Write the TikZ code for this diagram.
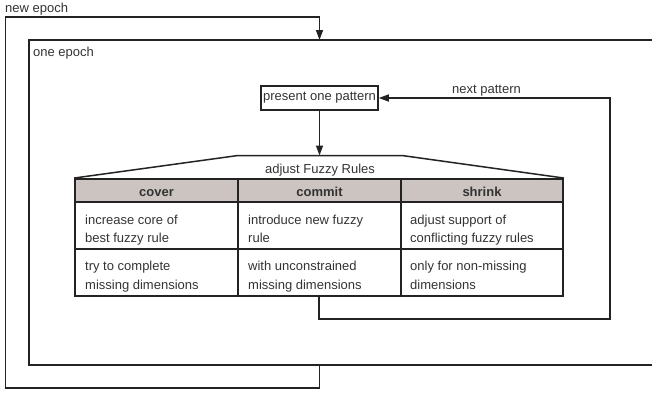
\documentclass[tikz,border=0pt]{standalone}
\usepackage{fontspec}
\setmainfont{Liberation Sans}
\usetikzlibrary{arrows.meta}
\definecolor{ln}{HTML}{232323}
\definecolor{tx}{HTML}{333333}
\definecolor{hdr}{HTML}{CCC4C0}
\tikzset{
  wire/.style={draw=ln, line width=1.5pt},
  arr/.style={wire, -{Triangle[length=10pt,width=7pt]}},
  txt/.style={text=tx, font=\fontsize{13}{18}\selectfont, inner sep=0pt},
  hdrtxt/.style={txt, font=\fontsize{13}{18}\selectfont\bfseries},
  boxnode/.style={draw=ln, line width=1.5pt, inner sep=0pt, minimum width=117pt, minimum height=24pt, text=tx, font=\fontsize{13}{18}\selectfont},
  tablebox/.style={draw=ln, line width=1.9pt, inner sep=0pt, minimum width=488pt, minimum height=117pt},
  grid/.style={draw=ln, line width=1.4pt},
}
\begin{document}
\begin{tikzpicture}[x=1pt,y=-1pt]
\useasboundingbox (0,0) rectangle (652,392);
% coordinates
\coordinate (epochTop) at (319.5,40);
\coordinate (epochBot) at (319.5,365);
\coordinate (epochTR) at (656,40);
\coordinate (epochBR) at (656,365);
\coordinate (epochTL) at (29,40);
\coordinate (epochBL) at (29,365);
\coordinate (outerB) at (319.5,388);
\coordinate (outerTL) at (5.5,17);
\coordinate (nextR) at (610,319);
\coordinate (trapL) at (238,155.5);
\coordinate (trapR) at (402,155.5);
\coordinate (trapTop) at (319.5,155.5);

% one epoch box (open to the right)
\draw[wire] (epochTR) -- (epochTL) -- (epochBL) -- (epochBR);
% new epoch loop
\draw[arr] (epochBot) -- (outerB) -| (outerTL) -| (epochTop);
\node[txt, anchor=base west] (newepoch) at (5,12) {new epoch};
\node[txt, anchor=base west] (oneepoch) at (33,56) {one epoch};

% present one pattern
\node[boxnode] (present) at (319.5,98) {present one pattern};

% table
\fill[hdr] (75,179) rectangle (563,202);
\node[tablebox] (tbl) at (319,237.5) {};
\draw[grid] (75,202) -- (563,202);
\draw[grid] (75,249) -- (563,249);
\draw[grid] (238,179) -- (238,296);
\draw[grid] (401,179) -- (401,296);

% trapezoid
\draw[wire] (tbl.north west) -- (trapL) -- (trapR) -- (tbl.north east);
\node[txt, anchor=base] (adjust) at (320,173) {adjust Fuzzy Rules};

% arrow down
\draw[arr] (present.south) -- (trapTop);

% next pattern loop
\draw[arr] (tbl.south) |- (nextR) |- (present.east);
\node[txt, anchor=base west] (nextpat) at (452,93) {next pattern};

% header texts
\node[hdrtxt, anchor=base] (hcover) at (156.5,196) {cover};
\node[hdrtxt, anchor=base] (hcommit) at (319.5,196) {commit};
\node[hdrtxt, anchor=base] (hshrink) at (482,196) {shrink};

% row 1
\node[txt, anchor=base west] (a1) at (85,224) {increase core of};
\node[txt, anchor=base west] (a2) at (85,242) {best fuzzy rule};
\node[txt, anchor=base west] (b1) at (248,224) {introduce new fuzzy};
\node[txt, anchor=base west] (b2) at (248,242) {rule};
\node[txt, anchor=base west] (c1) at (410,224) {adjust support of};
\node[txt, anchor=base west] (c2) at (410,242) {conflicting fuzzy rules};
% row 2
\node[txt, anchor=base west] (d1) at (85,270) {try to complete};
\node[txt, anchor=base west] (d2) at (85,289) {missing dimensions};
\node[txt, anchor=base west] (e1) at (248,270) {with unconstrained};
\node[txt, anchor=base west] (e2) at (248,289) {missing dimensions};
\node[txt, anchor=base west] (f1) at (410,270) {only for non-missing};
\node[txt, anchor=base west] (f2) at (410,289) {dimensions};
\end{tikzpicture}
\end{document}
